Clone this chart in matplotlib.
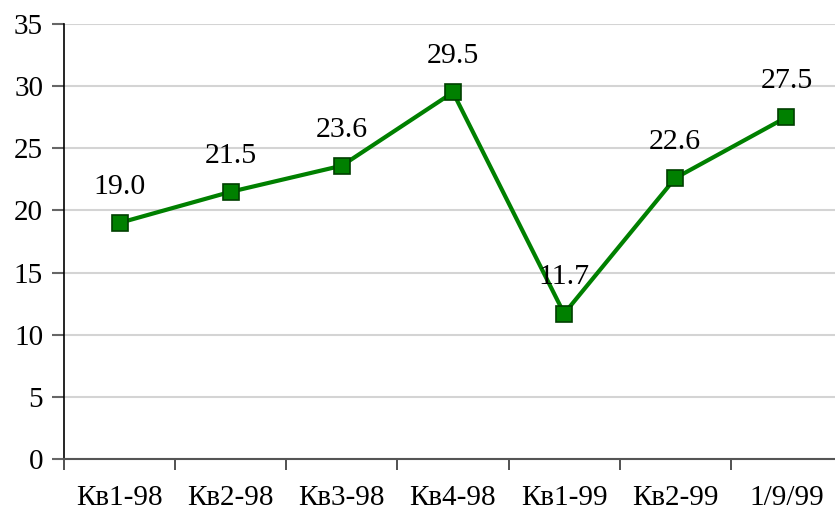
import matplotlib.pyplot as plt

# data
categories = ['Кв1-98', 'Кв2-98', 'Кв3-98', 'Кв4-98', 'Кв1-99', 'Кв2-99', '1/9/99']
values = [19.0, 21.5, 23.6, 29.5, 11.7, 22.6, 27.5]
y_ticks = [0, 5, 10, 15, 20, 25, 30, 35]

plt.rcParams['font.family'] = ['Liberation Serif', 'DejaVu Serif']
plt.rcParams['font.size'] = 21

fig = plt.figure(figsize=(8.35, 5.14), dpi=100)
ax = fig.add_axes([64 / 835, 55 / 514, 778 / 835, 435 / 514])

x = list(range(len(categories)))
ax.plot(x, values, color='#008000', linewidth=3, marker='s', markersize=12,
        markerfacecolor='#008000', markeredgecolor='#004000', markeredgewidth=1.2,
        zorder=3, clip_on=False)

for xi, v in zip(x, values):
    ax.annotate(f'{v:.1f}', (xi, v), xytext=(0, 26), textcoords='offset points',
                ha='center', va='center', fontsize=21.5)

# axes
ax.set_xlim(-0.5, len(categories) - 0.5)
ax.set_ylim(0, 35)
ax.set_yticks(y_ticks)
ax.set_yticklabels([str(t) for t in y_ticks])
ax.yaxis.grid(True, color='#d4d4d4', linewidth=1.5)
ax.set_axisbelow(True)

# category ticks on boundaries, labels centred
ax.set_xticks([i - 0.5 for i in range(len(categories) + 1)])
ax.set_xticklabels([])
ax.set_xticks(x, minor=True)
ax.set_xticklabels(categories, minor=True)
ax.tick_params(axis='x', which='major', length=8, width=1.2, color='#333333', direction='out')
ax.tick_params(axis='x', which='minor', length=0, pad=19)
ax.tick_params(axis='y', length=9, width=1.5, color='#666666', pad=6)

for s in ['top', 'right']:
    ax.spines[s].set_visible(False)
ax.spines['left'].set_color('black')
ax.spines['left'].set_linewidth(1.2)
ax.spines['bottom'].set_color('#555555')
ax.spines['bottom'].set_linewidth(1.5)

plt.savefig('out.png', dpi=100)
